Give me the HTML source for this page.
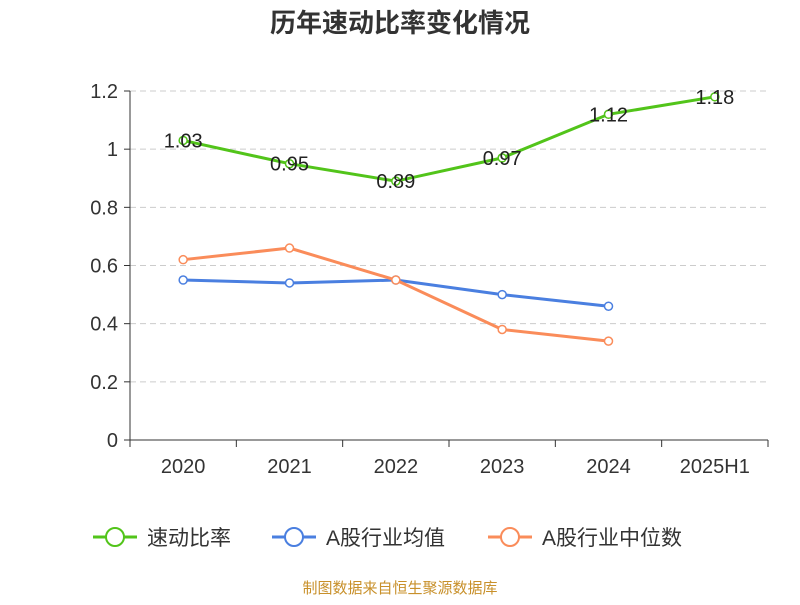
<!DOCTYPE html>
<html><head><meta charset="utf-8"><style>
body{margin:0;background:#fff;}
svg text{font-family:"Liberation Sans","Noto Sans CJK SC",sans-serif;}
</style></head><body>
<svg id="chart" width="800" height="600">
<text x="400" y="32" text-anchor="middle" font-size="26" font-weight="bold" fill="#333">历年速动比率变化情况</text>
<g id="grid"></g><g id="axes"></g><g id="series"></g><g id="legend"></g>
<text x="400" y="593" text-anchor="middle" font-size="15" fill="#c8902a">制图数据来自恒生聚源数据库</text>
</svg>
<script>
const categories=["2020","2021","2022","2023","2024","2025H1"];
const yTicks=[0,0.2,0.4,0.6,0.8,1,1.2];
const yTickLabels=["0","0.2","0.4","0.6","0.8","1","1.2"];
const quickRatio=[1.03,0.95,0.89,0.97,1.12,1.18];
const industryAvg=[0.55,0.54,0.55,0.50,0.46];
const industryMedian=[0.62,0.66,0.55,0.38,0.34];
const seriesNames=["速动比率","A股行业均值","A股行业中位数"];
const colors=["#52c41a","#4a7fe0","#fa8c5a"];
const NS="http://www.w3.org/2000/svg";
const L=130,R=768,T=91,B=440;
const bw=(R-L)/categories.length;
const x=i=>L+bw*(i+0.5);
const y=v=>B-(v/1.2)*(B-T);
function mk(tag,attrs,parent,text){const e=document.createElementNS(NS,tag);for(const k in attrs)e.setAttribute(k,attrs[k]);if(text!==undefined)e.textContent=text;parent.appendChild(e);return e;}
const grid=document.getElementById('grid'),axes=document.getElementById('axes'),ser=document.getElementById('series'),leg=document.getElementById('legend');
yTicks.forEach((t,i)=>{
 if(t>0){const g=mk('line',{x1:L,x2:R,y1:y(t),y2:y(t),stroke:'#ccc','stroke-dasharray':'6,4'},grid);
 
 }
 const tk=mk('line',{x1:L-6,x2:L,y1:y(t),y2:y(t),stroke:'#333'},axes);
 
 
 const lb=mk('text',{x:L-12,y:y(t)+7,'text-anchor':'end','font-size':20,fill:'#333'},axes,yTickLabels[i]);
 
 
});
const ya=mk('line',{x1:L,x2:L,y1:T,y2:B,stroke:'#333'},axes);


const xa=mk('line',{x1:L,x2:R,y1:B,y2:B,stroke:'#333'},axes);


for(let i=0;i<=categories.length;i++){const t=mk('line',{x1:L+bw*i,x2:L+bw*i,y1:B,y2:B+7,stroke:'#333'},axes);
 
 }
categories.forEach((c,i)=>{const t=mk('text',{x:x(i),y:B+33,'text-anchor':'middle','font-size':20,fill:'#333'},axes,c);
 
 });
function drawSeries(vals,color,name,labels){
 const p=mk('polyline',{points:vals.map((v,i)=>x(i)+','+y(v)).join(' '),fill:'none',stroke:color,'stroke-width':3},ser);
 
 
 vals.forEach((v,i)=>{const c=mk('circle',{cx:x(i),cy:y(v),r:4,fill:'#fff',stroke:color,'stroke-width':1.5},ser);
  
  
  if(labels){const t=mk('text',{x:x(i),y:y(v)+7,'text-anchor':'middle','font-size':20,fill:'#222'},ser,v.toFixed(2));
  
  }
 });
}
drawSeries(industryAvg,colors[1],'industry-avg',false);
drawSeries(industryMedian,colors[2],'industry-median',false);
drawSeries(quickRatio,colors[0],'quick-ratio',true);
const lx=[93,272,488];
seriesNames.forEach((n,i)=>{
 const g=mk('g',{},leg);
 
 
 mk('line',{x1:lx[i],x2:lx[i]+44,y1:537,y2:537,stroke:colors[i],'stroke-width':3},g);
 mk('circle',{cx:lx[i]+22,cy:537,r:9,fill:'#fff',stroke:colors[i],'stroke-width':2},g);
 mk('text',{x:lx[i]+54,y:545,'font-size':21,fill:'#333'},g,n);
});
</script>
</body></html>
